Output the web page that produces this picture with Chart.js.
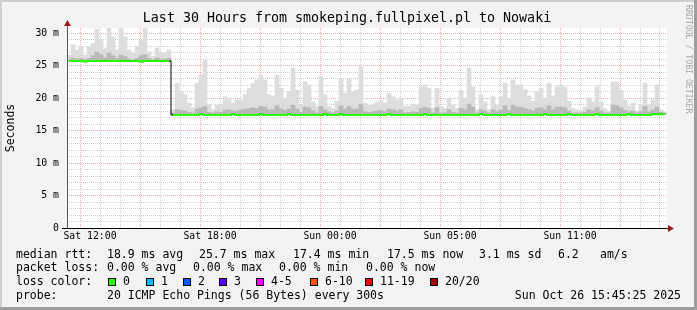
<!DOCTYPE html>
<html>
<head>
<meta charset="utf-8">
<script src="https://cdn.jsdelivr.net/npm/chart.js@4.4.1/dist/chart.umd.min.js"></script>
<style>
  html, body { margin: 0; padding: 0; background: #f3f3f3; }
</style>
</head>
<body>
<canvas id="smoke" width="697" height="310"></canvas>
<script>
// one bin every 12 minutes, hours counted from Sat 00:00
const startHour = 10.85;
const binHours = 0.2;
const yMax = 30.77;

const median = [
  25.7,25.7,25.7,25.7,25.6,25.7,25.7,25.7,25.7,25.7,
  25.7,25.7,25.7,25.7,25.7,25.7,25.7,25.7,25.6,25.7,
  25.7,25.7,25.7,25.7,25.7,25.7,
  17.4,17.4,17.4,17.4,17.4,17.4,17.4,17.5,17.4,17.4,
  17.4,17.4,17.4,17.4,17.4,17.5,17.4,17.4,17.4,17.4,
  17.4,17.4,17.5,17.4,17.4,17.4,17.4,17.4,17.4,17.5,
  17.4,17.4,17.4,17.4,17.4,17.4,17.4,17.4,17.5,17.4,
  17.4,17.4,17.5,17.4,17.4,17.4,17.4,17.4,17.4,17.4,
  17.4,17.4,17.4,17.4,17.5,17.4,17.4,17.4,17.4,17.4,
  17.4,17.4,17.4,17.5,17.4,17.4,17.4,17.4,17.4,17.4,
  17.4,17.4,17.4,17.4,17.4,17.4,17.4,17.5,17.4,17.4,
  17.4,17.4,17.4,17.4,17.5,17.4,17.4,17.4,17.4,17.4,
  17.4,17.4,17.4,17.5,17.4,17.4,17.4,17.4,17.4,17.5,
  17.4,17.4,17.4,17.4,17.4,17.4,17.5,17.4,17.4,17.4,
  17.4,17.4,17.4,17.4,17.5,17.4,17.4,17.4,17.4,17.4,
  17.5,17.5,17.5,17.5
];

const smokeMax = [
  26.6,28.2,27.4,27.9,26.6,27.9,28.4,30.6,28.9,27.6,
  30.7,29.4,27.4,30.7,29.4,27.4,26.9,27.9,28.9,30.7,
  27.1,26.4,27.7,26.9,26.9,27.4,
  18.2,22.3,21.0,20.5,19.2,18.5,22.3,23.5,25.8,19.0,
  18.2,18.9,18.9,20.2,20.0,19.2,19.7,19.7,20.5,21.5,
  22.3,22.8,23.5,22.8,20.5,20.3,23.5,21.5,20.0,21.0,
  24.6,21.2,18.9,22.5,22.0,19.4,18.7,23.3,20.5,18.7,
  18.4,19.5,23.0,20.7,23.0,21.0,21.2,24.8,19.2,18.9,
  18.9,19.4,19.6,19.2,20.7,20.2,19.7,20.0,18.7,18.7,
  19.0,18.9,21.7,22.0,21.5,18.4,21.5,18.7,18.4,20.0,
  18.9,18.4,21.2,20.0,24.6,21.7,18.2,20.5,19.4,18.2,
  20.2,18.9,20.2,22.3,19.8,22.8,22.0,22.0,21.3,20.3,
  19.5,21.0,21.5,20.0,22.3,20.3,21.7,22.0,21.7,19.5,
  18.4,18.2,18.0,18.6,20.0,19.4,21.7,19.4,18.4,18.0,
  22.5,22.5,21.2,19.7,18.7,19.2,18.0,19.0,22.3,19.0,
  19.7,22.0,18.2,17.8
];

const smokeMid = [
  25.9,26.2,26.0,26.1,25.9,26.1,26.5,27.0,26.7,26.2,
  26.9,26.5,26.1,26.6,26.4,26.0,25.9,26.1,26.5,26.7,
  26.1,25.9,26.2,26.0,26.0,26.1,
  17.7,18.2,18.1,18.0,17.8,17.7,18.3,18.5,18.7,17.8,
  17.7,17.9,17.8,18.1,18.2,18.0,18.0,18.2,18.3,18.4,
  18.5,18.4,18.7,18.6,18.2,18.2,18.8,18.3,18.1,18.3,
  18.9,18.3,17.8,18.6,18.5,18.0,17.7,18.7,18.2,17.9,
  17.7,18.0,18.8,18.3,18.7,18.3,18.3,19.0,17.9,17.8,
  17.9,18.0,18.1,17.9,18.3,18.2,18.0,18.2,17.7,17.8,
  17.9,17.8,18.4,18.6,18.4,17.7,18.5,17.7,17.7,18.2,
  17.8,17.7,18.4,18.2,19.0,18.6,17.7,18.2,18.0,17.7,
  18.2,17.9,18.2,18.8,18.1,18.9,18.6,18.6,18.4,18.2,
  18.0,18.4,18.5,18.2,18.8,18.2,18.6,18.6,18.5,18.0,
  17.7,17.7,17.7,17.8,18.2,18.0,18.5,18.0,17.7,17.7,
  18.9,18.8,18.5,18.1,17.9,18.0,17.7,17.9,18.7,17.9,
  18.2,18.6,17.8,17.6
];

const hourTicks = [11,12,13,14,15,16,17,18,19,20,21,22,23,24,25,26,27,28,29,30,31,32,33,34,35,36,37,38,39,40];
const labelHours = [12, 18, 24, 30, 36];
const labelTexts = ['Sat 12:00', 'Sat 18:00', 'Sun 00:00', 'Sun 05:00', 'Sun 11:00'];
const msTicks = [0,1,2,3,4,5,6,7,8,9,10,11,12,13,14,15,16,17,18,19,20,21,22,23,24,25,26,27,28,29,30];
const msLabelValues = [0, 5, 10, 15, 20, 25, 30];
const msLabelTexts = ['0', '5 m', '10 m', '15 m', '20 m', '25 m', '30 m'];

const titleText = 'Last 30 Hours from smokeping.fullpixel.pl to Nowaki';
const rttStats = ['18.9 ms avg', '25.7 ms max', '17.4 ms min', '17.5 ms now', '3.1 ms sd', '6.2', 'am/s'];
const lossStats = ['0.00 % avg', '0.00 % max', '0.00 % min', '0.00 % now'];
const lossLabels = ['0', '1', '2', '3', '4-5', '6-10', '11-19', '20/20'];
const lossColors = ['#26ff00', '#00b8ff', '#0059ff', '#5e00ff', '#ff00fe', '#ff5500', '#ff0000', '#a10000'];
const probeText = '20 ICMP Echo Pings (56 Bytes) every 300s';
const stampText = 'Sun Oct 26 15:45:25 2025';

const times = median.map((_, i) => startHour + binHours * (i + 0.5));
const medianPts = median.map((v, i) => ({x: times[i], y: v}));
const maxBars = smokeMax.map((v, i) => ({x: times[i], y: [median[i], v]}));
const midBars = smokeMid.map((v, i) => ({x: times[i], y: [median[i], v]}));

const MONO = 'DejaVu Sans Mono';
const RED_GRID = 'rgba(230,60,60,0.45)';
const GREY_GRID = 'rgba(128,128,128,0.38)';

const rrdFrame = {
    id: 'rrdFrame',
    beforeDraw(chart) {
        const {ctx, chartArea: a} = chart;
        ctx.save();
        ctx.fillStyle = '#f3f3f3';
        ctx.fillRect(0, 0, 697, 310);
        ctx.fillStyle = '#ffffff';
        ctx.fillRect(a.left, a.top, a.right - a.left, a.bottom - a.top);
        ctx.restore();
    },
    afterDraw(chart) {
        const {ctx, chartArea: a} = chart;
        ctx.save();
        // axes with arrows
        ctx.strokeStyle = '#555';
        ctx.lineWidth = 1;
        ctx.beginPath();
        ctx.moveTo(a.left + 0.5, a.bottom);
        ctx.lineTo(a.left + 0.5, a.top - 5);
        ctx.stroke();
        ctx.strokeStyle = '#000';
        ctx.beginPath();
        ctx.moveTo(a.left - 5, a.bottom + 0.5);
        ctx.lineTo(a.right + 2, a.bottom + 0.5);
        ctx.stroke();
        ctx.fillStyle = '#9b1b1b';
        ctx.beginPath();
        ctx.moveTo(a.left - 3, a.top - 2);
        ctx.lineTo(a.left + 4, a.top - 2);
        ctx.lineTo(a.left + 0.5, a.top - 8);
        ctx.closePath();
        ctx.fill();
        ctx.beginPath();
        ctx.moveTo(a.right + 1, a.bottom - 3);
        ctx.lineTo(a.right + 1, a.bottom + 4);
        ctx.lineTo(a.right + 7, a.bottom + 0.5);
        ctx.closePath();
        ctx.fill();

        // title
        ctx.fillStyle = '#000';
        ctx.textBaseline = 'middle';
        ctx.textAlign = 'center';
        ctx.font = '13.3px "' + MONO + '"';
        ctx.fillText(titleText, 347, 19);

        // legend block
        ctx.font = '11.5px "' + MONO + '"';
        ctx.textAlign = 'left';
        const rows = [254.8, 268.4, 282.0, 295.6];
        ctx.fillText('median rtt:', 16, rows[0]);
        const rttX = [107, 199, 293, 387, 479, 558, 600];
        rttStats.forEach((t, i) => ctx.fillText(t, rttX[i], rows[0]));
        ctx.fillText('packet loss:', 16, rows[1]);
        const lossX = [107, 193, 279, 366];
        lossStats.forEach((t, i) => ctx.fillText(t, lossX[i], rows[1]));
        ctx.fillText('loss color:', 16, rows[2]);
        const boxX = [108, 146, 183, 219, 256, 310, 365, 430];
        lossLabels.forEach((t, i) => {
            ctx.fillStyle = lossColors[i];
            ctx.fillRect(boxX[i], rows[2] - 4, 8, 8);
            ctx.strokeStyle = '#000';
            ctx.strokeRect(boxX[i] + 0.5, rows[2] - 3.5, 7, 7);
            ctx.fillStyle = '#000';
            ctx.fillText(t, boxX[i] + 15, rows[2]);
        });
        ctx.fillText('probe:', 16, rows[3]);
        ctx.fillText(probeText, 107, rows[3]);
        ctx.textAlign = 'right';
        ctx.fillText(stampText, 681, rows[3]);

        // credit on the right edge
        ctx.save();
        ctx.translate(688, 5);
        ctx.rotate(Math.PI / 2);
        ctx.textAlign = 'left';
        ctx.fillStyle = '#a8a8a8';
        ctx.font = '8.2px "' + MONO + '"';
        ctx.fillText('RRDTOOL / TOBI OETIKER', 0, 0);
        ctx.restore();

        // frame
        ctx.fillStyle = '#cfcfcf';
        ctx.fillRect(0, 0, 697, 2);
        ctx.fillRect(0, 0, 2, 310);
        ctx.fillStyle = '#9e9e9e';
        ctx.fillRect(0, 307, 697, 3);
        ctx.fillRect(694, 0, 3, 310);
        ctx.restore();
    }
};

new Chart(document.getElementById('smoke'), {
    type: 'bar',
    data: {
        datasets: [{
            type: 'line',
            label: 'median rtt',
            data: medianPts,
            borderColor: lossColors[0],
            borderWidth: 2,
            pointRadius: 0,
            stepped: 'middle',
            order: 0,
            segment: {
                borderColor: c => Math.abs(c.p0.parsed.y - c.p1.parsed.y) > 2 ? 'rgba(0,0,0,0)' : undefined
            }
        }, {
            type: 'line',
            label: 'step',
            data: medianPts,
            borderColor: '#000',
            borderWidth: 1,
            pointRadius: 0,
            stepped: 'middle',
            order: 1
        }, {
            label: 'smoke core',
            data: midBars,
            backgroundColor: '#b9b9b9',
            order: 2
        }, {
            label: 'smoke',
            data: maxBars,
            backgroundColor: '#dddddd',
            order: 3
        }]
    },
    options: {
        responsive: false,
        animation: false,
        devicePixelRatio: 1,
        datasets: {
            bar: {barPercentage: 1, categoryPercentage: 1, grouped: false, borderWidth: 0}
        },
        layout: {padding: {left: 0, right: 30, top: 28, bottom: 0}},
        plugins: {
            legend: {display: false},
            tooltip: {enabled: false}
        },
        scales: {
            x: {
                type: 'linear',
                min: startHour,
                max: startHour + 30,
                offset: false,
                z: 1,
                afterBuildTicks: s => { s.ticks = hourTicks.map(v => ({value: v})); },
                afterFit: s => { s.height = 82; },
                grid: {
                    color: c => (c.tick && c.tick.value % 3 === 0) ? RED_GRID : GREY_GRID,
                    drawTicks: false,
                    lineWidth: 1
                },
                border: {display: false, dash: [1, 1]},
                ticks: {
                    autoSkip: false,
                    maxRotation: 0,
                    padding: 3,
                    color: '#000',
                    font: {family: MONO, size: 9.8},
                    callback: v => {
                        const k = labelHours.indexOf(v);
                        return k < 0 ? '' : labelTexts[k];
                    }
                }
            },
            y: {
                min: 0,
                max: yMax,
                z: 1,
                afterBuildTicks: s => { s.ticks = msTicks.map(v => ({value: v})); },
                afterFit: s => { s.width = 67; },
                grid: {
                    color: c => (c.tick && c.tick.value % 5 === 0) ? RED_GRID : GREY_GRID,
                    drawTicks: false,
                    lineWidth: 1
                },
                border: {display: false, dash: [1, 1]},
                title: {
                    display: true,
                    text: 'Seconds',
                    color: '#000',
                    font: {family: MONO, size: 11.5},
                    padding: {top: 4, bottom: 0}
                },
                ticks: {
                    autoSkip: false,
                    padding: 8,
                    color: '#000',
                    font: {family: MONO, size: 9.8},
                    callback: v => {
                        const k = msLabelValues.indexOf(v);
                        return k < 0 ? '' : msLabelTexts[k];
                    }
                }
            }
        }
    },
    plugins: [rrdFrame]
});
</script>
</body>
</html>
